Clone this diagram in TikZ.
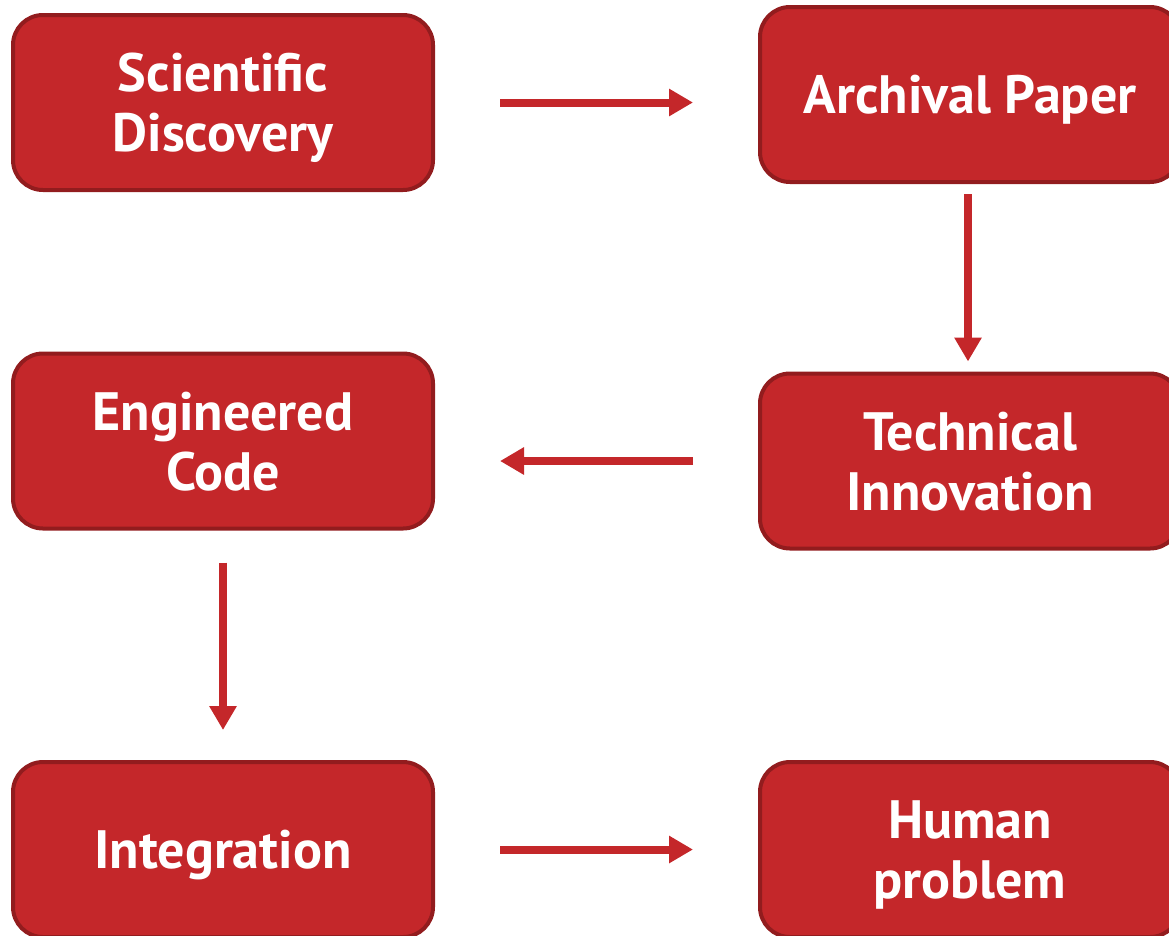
\documentclass[tikz,border=0pt]{standalone}
\usepackage{fontspec}
\setmainfont{PT Sans}
\usepackage{tikz}
\usetikzlibrary{arrows.meta}
\definecolor{boxred}{HTML}{C4272A}
\definecolor{edgered}{HTML}{921C1E}
\tikzset{
	stepbox/.style={rectangle,rounded corners=30pt,fill=boxred,draw=edgered,line width=4pt,
		minimum width=420pt,minimum height=175pt,text=white,align=center,text depth=0pt,
		font=\fontsize{54}{60}\selectfont\bfseries},
	flow/.style={draw=boxred,line width=8pt,-{Triangle[length=24pt,width=26pt]}},
	}

\begin{document}
\begin{tikzpicture}[x=1pt,y=-1pt]
 \clip (0,0) rectangle (1169,935);
 \useasboundingbox (0,0) rectangle (1169,935);

\node (sci) at (223,102.5) [stepbox] {Scientific\\Discovery};
\node (arch) at (970,94.5) [stepbox] {Archival Paper};
\node (eng) at (223,441) [stepbox] {Engineered\\Code};
\node (tech) at (970,461) [stepbox] {Technical\\Innovation};
\node (integ) at (223,849.5) [stepbox] {Integration};
\node (hum) at (970,849.5) [stepbox] {Human\\problem};

 \draw [flow, shorten <=65pt, shorten >=65pt] (sci.east) -- (sci.east -| arch.west);
 \draw [flow, shorten <=10pt, shorten >=10pt] (arch.south -| 968,0) -- (tech.north -| 968,0);
 \draw [flow, shorten <=65pt, shorten >=65pt] (tech.west) -- (tech.west -| eng.east);
 \draw [flow, shorten <=32pt, shorten >=30pt] (eng.south) -- (integ.north);
 \draw [flow, shorten <=65pt, shorten >=65pt] (integ.east) -- (hum.west);
\end{tikzpicture}
\end{document}
